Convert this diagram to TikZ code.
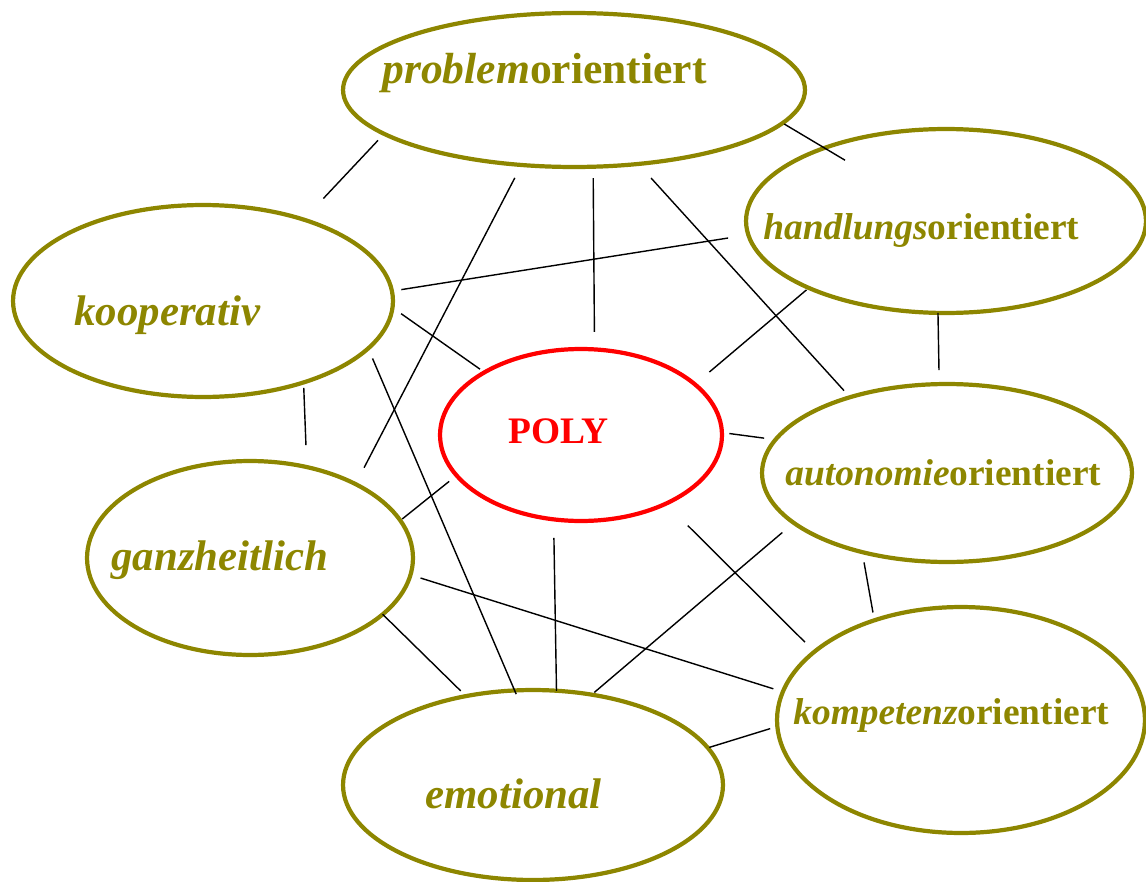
\documentclass[tikz,border=0pt]{standalone}
\usepackage{fontspec}
\setmainfont{Liberation Serif}
\usetikzlibrary{shapes.geometric}
\tikzset{
  blob/.style={ellipse, draw=olive, line width=2.4pt, inner sep=0pt, outer sep=0pt},
  lbl/.style={anchor=base west, inner sep=0pt, text=olive, font=\bfseries\fontsize{24.4}{28}\selectfont},
  lblm/.style={lbl, font=\bfseries\fontsize{21.3}{25}\selectfont},
  link/.style={line width=0.8pt}
}
\begin{document}
\begin{tikzpicture}[x=0.02cm, y=-0.02cm]
            \useasboundingbox (0,0) rectangle (1146,882);
            % ellipses
            \node[blob, minimum width=9.24cm, minimum height=3.08cm] (prob) at (574,90) {};
            \node[blob, minimum width=8cm, minimum height=3.68cm] (handl) at (946,221) {};
            \node[blob, minimum width=7.6cm, minimum height=3.84cm] (koop) at (203,301) {};
            \node[blob, draw=red, minimum width=5.64cm, minimum height=3.44cm] (poly) at (581,435) {};
            \node[blob, minimum width=7.4cm, minimum height=3.56cm] (auto) at (947,473) {};
            \node[blob, minimum width=6.52cm, minimum height=3.88cm] (ganz) at (250,558) {};
            \node[blob, minimum width=7.36cm, minimum height=4.52cm] (komp) at (961,720) {};
            \node[blob, minimum width=7.6cm, minimum height=3.8cm] (emot) at (533,785) {};
            % texts
            \node[lbl, font=\bfseries\fontsize{24.8}{28}\selectfont] (probtext) at (382,84) {\textit{problem}orientiert};
            \node[lblm] (handltext) at (763,239) {\textit{handlungs}orientiert};
            \node[lbl] (kooptext) at (74,325) {\textit{kooperativ}};
            \node[lblm, text=red] (polytext) at (508,443) {POLY};
            \node[lblm] (autotext) at (785,485) {\textit{autonomie}orientiert};
            \node[lbl] (ganztext) at (111,570) {\textit{ganzheitlich}};
            \node[lblm] (komptext) at (793,724) {\textit{kompetenz}orientiert};
            \node[lbl] (emottext) at (425,808) {\textit{emotional}};
            % links
            \draw[link, shorten <=0.18cm, shorten >=0.58cm] (prob.193.9) -- (koop.39.1);
            \draw[link, shorten <=0.29cm, shorten >=0.37cm] (prob.235.2) -- (ganz.35.5);
            \draw[link, shorten <=0.23cm, shorten >=0.35cm] (prob.284.6) -- (poly.81.4);
            \draw[link, shorten <=0.38cm, shorten >=0.18cm] (prob.311) -- (auto.142.4);
            \draw[link, shorten <=0.04cm, shorten >=-0.48cm] (prob.351.4) -- (handl.149.4);
            \draw[link, shorten <=0.19cm, shorten >=0.41cm] (koop.3.8) -- (handl.184);
            \draw[link, shorten <=0.21cm, shorten >=0.11cm] (koop.358.6) -- (poly.147.9);
            \draw[link, shorten <=0.22cm, shorten >=-0.08cm] (koop.344.2) -- (emot.101.1);
            \draw[link, shorten <=0.11cm, shorten >=0.44cm] (koop.321.9) -- (ganz.58.4);
            \draw[link, shorten <=0.06cm, shorten >=0.38cm] (handl.206.2) -- (poly.24.8);
            \draw[link, shorten >=0.28cm] (handl.265.6) -- (auto.95.1);
            \draw[link, shorten <=0.15cm, shorten >=0.23cm] (poly.1.7) -- (auto.169.1);
            \draw[link, shorten <=0.05cm, shorten >=0.19cm] (ganz.14.9) -- (poly.198.6);
            \draw[link, shorten <=0.37cm] (poly.252.9) -- (emot.76.9);
            \draw[link, shorten <=0.62cm, shorten >=0.27cm] (poly.321.7) -- (komp.155);
            \draw[link, shorten <=0.30cm, shorten >=0.07cm] (auto.198.3) -- (emot.57.7);
            \draw[link, shorten <=0.21cm, shorten >=0.16cm] (auto.223.6) -- (komp.131.5);
            \draw[link, shorten <=0.21cm, shorten >=0.20cm] (ganz.354.8) -- (komp.171.4);
            \draw[link, shorten >=0.15cm] (ganz.337.2) -- (emot.127.8);
            \draw[link, shorten <=0.03cm, shorten >=0.15cm] (emot.12.2) -- (komp.182.1);
\end{tikzpicture}
\end{document}
